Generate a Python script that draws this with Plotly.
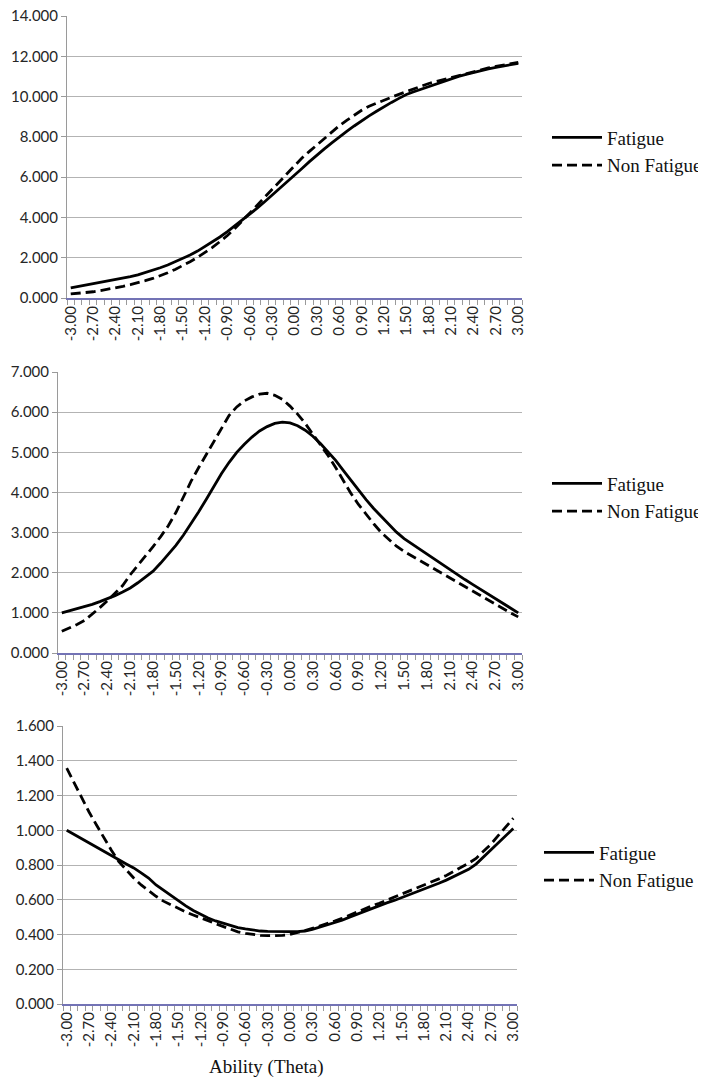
import plotly.graph_objects as go

theta = [round(-3.0 + 0.1 * i, 1) for i in range(61)]
tick_vals = [round(-3.0 + 0.3 * i, 1) for i in range(21)]
tick_text = [f"{v:.2f}" for v in tick_vals]

# Chart 1
fatigue_1 = [0.50, 0.57, 0.63, 0.70, 0.76, 0.83, 0.90, 0.98, 1.06, 1.15,
             1.26, 1.37, 1.50, 1.64, 1.79, 1.95, 2.13, 2.33, 2.55, 2.78,
             3.03, 3.30, 3.58, 3.86, 4.15, 4.46, 4.78, 5.10, 5.43, 5.77,
             6.10, 6.43, 6.77, 7.10, 7.40, 7.70, 8.00, 8.27, 8.54, 8.80,
             9.04, 9.27, 9.50, 9.71, 9.91, 10.10, 10.24, 10.37, 10.50, 10.64,
             10.77, 10.90, 11.00, 11.10, 11.20, 11.28, 11.37, 11.45, 11.52, 11.59,
             11.65]
nonfatigue_1 = [0.20, 0.23, 0.27, 0.31, 0.37, 0.43, 0.50, 0.58, 0.66, 0.75,
                0.86, 0.97, 1.10, 1.25, 1.42, 1.60, 1.80, 2.02, 2.25, 2.51,
                2.80, 3.10, 3.45, 3.82, 4.20, 4.60, 5.00, 5.40, 5.80, 6.20,
                6.60, 6.95, 7.28, 7.60, 7.92, 8.25, 8.55, 8.82, 9.08, 9.32,
                9.52, 9.68, 9.82, 9.97, 10.11, 10.25, 10.39, 10.52, 10.65, 10.75,
                10.85, 10.95, 11.05, 11.15, 11.25, 11.33, 11.42, 11.50, 11.56, 11.63,
                11.70]

# Chart 2
fatigue_2 = [1.00, 1.05, 1.10, 1.15, 1.21, 1.28, 1.35, 1.43, 1.52, 1.62,
             1.75, 1.89, 2.04, 2.24, 2.45, 2.68, 2.94, 3.22, 3.52, 3.83,
             4.15, 4.47, 4.75, 5.00, 5.20, 5.38, 5.53, 5.64, 5.72, 5.75,
             5.73, 5.66, 5.55, 5.40, 5.22, 5.02, 4.80, 4.55, 4.30, 4.05,
             3.82, 3.60, 3.40, 3.20, 3.01, 2.85, 2.72, 2.59, 2.46, 2.33,
             2.20, 2.07, 1.95, 1.83, 1.71, 1.59, 1.47, 1.35, 1.24, 1.12,
             1.00]
nonfatigue_2 = [0.54, 0.62, 0.71, 0.81, 0.96, 1.13, 1.30, 1.48, 1.68, 1.95,
                2.18, 2.42, 2.65, 2.90, 3.17, 3.50, 3.90, 4.28, 4.62, 4.95,
                5.28, 5.60, 5.92, 6.13, 6.28, 6.38, 6.45, 6.47, 6.42, 6.32,
                6.15, 5.95, 5.72, 5.45, 5.20, 4.92, 4.62, 4.30, 3.98, 3.70,
                3.45, 3.22, 3.00, 2.82, 2.66, 2.53, 2.42, 2.31, 2.21, 2.10,
                1.98, 1.86, 1.75, 1.64, 1.53, 1.42, 1.32, 1.21, 1.10, 1.00,
                0.90]

# Chart 3
fatigue_3 = [1.000, 0.975, 0.950, 0.925, 0.900, 0.875, 0.850, 0.830, 0.806, 0.783,
             0.755, 0.725, 0.685, 0.655, 0.622, 0.590, 0.565, 0.538, 0.515, 0.495,
             0.478, 0.465, 0.452, 0.440, 0.432, 0.425, 0.420, 0.418, 0.416, 0.416,
             0.416, 0.417, 0.420, 0.430, 0.442, 0.455, 0.468, 0.482, 0.500, 0.517,
             0.532, 0.550, 0.566, 0.582, 0.596, 0.612, 0.628, 0.645, 0.660, 0.676,
             0.695, 0.713, 0.733, 0.752, 0.775, 0.805, 0.845, 0.885, 0.925, 0.968,
             1.010]
nonfatigue_3 = [1.357, 1.270, 1.185, 1.105, 1.030, 0.955, 0.885, 0.820, 0.770, 0.725,
                0.685, 0.650, 0.620, 0.592, 0.570, 0.550, 0.530, 0.512, 0.497, 0.480,
                0.462, 0.445, 0.428, 0.415, 0.407, 0.400, 0.395, 0.393, 0.393, 0.395,
                0.400, 0.410, 0.422, 0.435, 0.448, 0.462, 0.477, 0.493, 0.512, 0.530,
                0.548, 0.565, 0.580, 0.597, 0.615, 0.632, 0.650, 0.667, 0.685, 0.703,
                0.720, 0.740, 0.762, 0.785, 0.810, 0.838, 0.878, 0.920, 0.970, 1.020,
                1.069]

series_names = ["Fatigue", "Non Fatigue"]
y_ranges = [(0, 14, 2), (0, 7, 1), (0, 1.6, 0.2)]

OFF = 8  # page body margin around the figure
W, H = 706 - OFF, 1083 - OFF
# target screen pixel boxes: (left, right, top, bottom)
boxes = [(67, 522, 16, 298), (58, 522, 372, 653), (63, 517, 726, 1004)]
legend_pos = [(547, 151.5), (547, 497.5), (539, 866.5)]

data = [(fatigue_1, nonfatigue_1), (fatigue_2, nonfatigue_2), (fatigue_3, nonfatigue_3)]

SERIF = "Liberation Serif"
tick_font = dict(family="Lato", size=15, color="#262626")
legend_font = dict(family=SERIF, size=19, color="#111111")


def px_x(p):
    return (p - OFF) / W


def px_y(p):
    return 1 - (p - OFF) / H


fig = go.Figure()
layout_updates = {}
for i, (fat, nonfat) in enumerate(data):
    sfx = "" if i == 0 else str(i + 1)
    leg = "legend" if i == 0 else f"legend{i + 1}"
    fig.add_trace(go.Scatter(x=theta, y=fat, mode="lines", name=series_names[0],
                             line=dict(color="#000000", width=2.8),
                             xaxis="x" + sfx, yaxis="y" + sfx, legend=leg))
    fig.add_trace(go.Scatter(x=theta, y=nonfat, mode="lines", name=series_names[1],
                             line=dict(color="#000000", width=2.8, dash="10px,5px"),
                             xaxis="x" + sfx, yaxis="y" + sfx, legend=leg))
    l, r, t, b = boxes[i]
    y0, y1, dy = y_ranges[i]
    layout_updates["xaxis" + sfx] = dict(
        domain=[px_x(l), px_x(r)], anchor="y" + sfx, range=[-3.05, 3.05],
        tickmode="array", tickvals=tick_vals, ticktext=tick_text, tickangle=-90,
        ticks="", showgrid=False, zeroline=False, automargin=False,
        ticklabeloverflow="allow",
        showline=True, linecolor="#7373b5", linewidth=2,
        tickfont=tick_font,
        minor=dict(tickmode="linear", tick0=-3.05, dtick=0.1, ticks="outside",
                   ticklen=5, tickcolor="#9a9a9a", tickwidth=1, showgrid=False),
    )
    layout_updates["yaxis" + sfx] = dict(
        domain=[px_y(b), px_y(t)], anchor="x" + sfx, range=[y0, y1],
        dtick=dy, tick0=0, tickformat=".3f", showgrid=True, gridcolor="#b3b3b3",
        gridwidth=1, zeroline=False, showline=True, linecolor="#9a9a9a", linewidth=1,
        ticks="outside", ticklen=5, tickcolor="#9a9a9a", tickfont=tick_font,
        automargin=False, ticklabeloverflow="allow",
    )
    lx, ly = legend_pos[i]
    layout_updates[leg] = dict(x=px_x(lx), y=px_y(ly), xanchor="left", yanchor="middle",
                               font=legend_font, bgcolor="rgba(0,0,0,0)",
                               tracegroupgap=0, itemwidth=50)

fig.update_layout(**layout_updates)

fig.add_annotation(text="Ability (Theta)", x=px_x(266), y=px_y(1067),
                   xref="paper", yref="paper", showarrow=False,
                   font=dict(family=SERIF, size=19, color="#111111"),
                   xanchor="center", yanchor="middle")

fig.update_layout(width=W, height=H, autosize=False,
                  margin=dict(l=0, r=0, t=0, b=0, autoexpand=False),
                  plot_bgcolor="white", paper_bgcolor="white")

fig.write_html("out.html")
